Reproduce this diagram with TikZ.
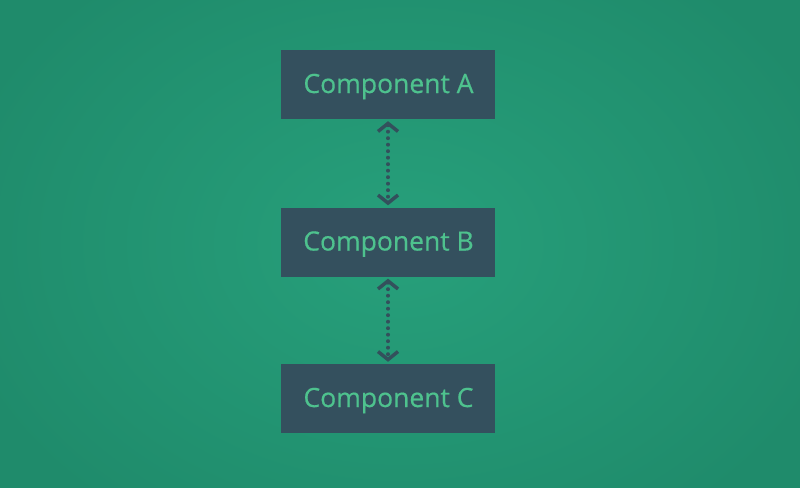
\documentclass[tikz,border=0pt]{standalone}
\usepackage{fontspec}
\setmainfont{Open Sans}
\newfontfamily\lblfont{Open Sans}[FakeBold=0.5]
\usetikzlibrary{arrows.meta}
\definecolor{bgin}{HTML}{27A07B}
\definecolor{bgout}{HTML}{1F8B6B}
\definecolor{boxfill}{HTML}{34505E}
\definecolor{boxtext}{HTML}{4EC28E}
\definecolor{arrcol}{HTML}{33505C}
\tikzset{
  comp/.style={fill=boxfill, draw=none, minimum width=214pt, minimum height=69pt, inner sep=0pt},
  label/.style={text=boxtext, font=\lblfont\fontsize{26.5}{32}\selectfont, inner sep=0pt, anchor=base},
  link/.style={draw=arrcol, line width=4pt, dash pattern=on 0pt off 6.5pt, line cap=round,
    {Straight Barb[length=8pt, width=20pt, line width=3.5pt]}-{Straight Barb[length=8pt, width=20pt, line width=3.5pt]},
    shorten <=2pt, shorten >=2pt}
}
\begin{document}
\begin{tikzpicture}[x=1pt,y=-1pt]
\useasboundingbox (0,0) rectangle (800,487);
\shade[inner color=bgin, outer color=bgout] (-60,-100) rectangle (860,587);
\node[comp] (A) at (388,84.5) {};
\node[comp] (B) at (388,242) {};
\node[comp] (C) at (388,398.5) {};
\node[label] (tA) at (388.5,93) {Component A};
\node[label] (tB) at (388.5,250.5) {Component B};
\node[label] (tC) at (388.5,407) {Component C};
\draw[link] (A.south) -- (B.north);
\draw[link] (B.south) -- (C.north);
\end{tikzpicture}
\end{document}
